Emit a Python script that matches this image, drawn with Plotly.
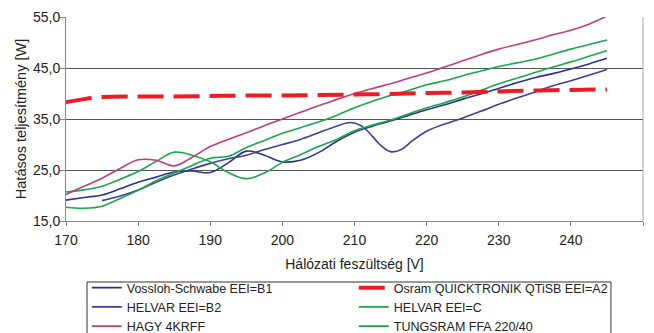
import plotly.graph_objects as go

# Supply voltage [V] and effective power [W] for each ballast
v_step = [170, 172.5, 175, 177.5, 180, 182.5, 185, 187.5, 190, 192.5, 195, 197.5,
          200, 202.5, 205, 207.5, 210, 212.5, 215, 217.5, 220, 222.5, 225, 227.5,
          230, 232.5, 235, 237.5, 240, 242.5, 245]

vossloh_w = [19.1, 19.6, 20.1, 21.3, 22.6, 23.6, 24.6, 24.8, 24.5, 26.4, 28.7, 27.9,
             26.6, 26.9, 28.4, 30.6, 32.4, 33.6, 34.6, 35.7, 36.8, 37.8, 38.9, 39.9,
             41.0, 42.1, 43.1, 43.9, 44.8, 45.8, 46.9]

helvar_b2_v = [175, 177.5, 180, 182.5, 185, 187.5, 190, 192.5, 195, 197.5, 200, 202.5,
               205, 207.5, 209.5, 211, 212.5, 213.5, 215, 216.5, 218, 220, 222.5, 225,
               227.5, 230, 232.5, 235, 237.5, 240, 242.5, 245]
helvar_b2_w = [19.0, 19.9, 21.1, 22.6, 24.0, 25.2, 26.3, 27.2, 27.9, 29.0, 30.0, 31.0,
               32.3, 33.6, 34.3, 33.6, 31.6, 30.0, 28.6, 29.0, 30.7, 32.6, 34.0, 35.2,
               36.5, 37.9, 39.1, 40.3, 41.5, 42.5, 43.6, 44.7]

helvar_c_w = [20.7, 21.1, 21.8, 23.2, 24.7, 26.7, 28.5, 27.9, 26.6, 24.5, 23.3, 24.4,
              26.5, 28.0, 29.6, 31.0, 32.7, 33.8, 34.8, 36.0, 37.2, 38.2, 39.3, 40.6,
              41.9, 43.0, 44.1, 45.2, 46.2, 47.3, 48.4]

hagy_w = [20.2, 21.8, 23.4, 25.3, 27.0, 26.9, 25.8, 27.5, 29.6, 31.0, 32.3, 33.7,
          35.0, 36.3, 37.6, 38.8, 40.0, 41.0, 41.9, 43.0, 44.0, 45.2, 46.4, 47.6,
          48.7, 49.6, 50.5, 51.5, 52.4, 53.6, 55.2]

tungsram_w = [17.7, 17.5, 17.9, 19.4, 21.0, 22.9, 24.4, 25.9, 27.3, 27.7, 29.4, 30.8,
              32.2, 33.3, 34.4, 35.7, 37.2, 38.5, 39.6, 40.6, 41.7, 42.5, 43.5, 44.4,
              45.3, 46.0, 46.7, 47.7, 48.7, 49.6, 50.5]

osram_v = [170, 172.5, 175, 180, 185, 190, 195, 200, 205, 210, 215, 220, 225, 230,
           235, 240, 245]
osram_w = [38.3, 38.9, 39.3, 39.4, 39.4, 39.5, 39.6, 39.6, 39.7, 39.8, 39.9, 40.1,
           40.2, 40.4, 40.6, 40.7, 40.8]

x_ticks = [170, 180, 190, 200, 210, 220, 230, 240, 250]
y_ticks = [15, 25, 35, 45, 55]

BLUE_1 = "#2e3192"
BLUE_2 = "#3b3f9e"
GREEN = "#1aa84c"
PINK = "#bf3f7c"
RED = "#ed1c24"

FONT = "Liberation Sans, Arial, sans-serif"
TEXT = "#222222"

fig = go.Figure()

series = [
    ("Vossloh-Schwabe EEI=B1", v_step, vossloh_w, BLUE_1, 1),
    ("HELVAR EEI=B2", helvar_b2_v, helvar_b2_w, BLUE_2, 3),
    ("HELVAR EEI=C", v_step, helvar_c_w, GREEN, 4),
    ("HAGY 4KRFF", v_step, hagy_w, PINK, 5),
    ("TUNGSRAM FFA 220/40", v_step, tungsram_w, GREEN, 6),
]
for name, xs, ys, color, rank in series:
    fig.add_trace(go.Scatter(
        x=xs, y=ys, name=name, mode="lines", legendrank=rank,
        line=dict(color=color, width=1.6, shape="spline", smoothing=1.0),
    ))

fig.add_trace(go.Scatter(
    x=osram_v, y=osram_w, name="Osram QUICKTRONIK QTiSB EEI=A2", mode="lines",
    legendrank=2,
    line=dict(color=RED, width=4, dash="26px,10px", shape="spline"),
))

fig.update_layout(
    width=654, height=333,
    margin=dict(l=66, r=11, t=17, b=112, autoexpand=False),
    paper_bgcolor="white", plot_bgcolor="white",
    separators=", ",
    font=dict(family=FONT, size=14, color=TEXT),
    showlegend=True,
    legend=dict(
        orientation="h", x=0.036, xanchor="left", y=-0.255, yanchor="top",
        entrywidth=222, entrywidthmode="pixels",
        borderwidth=0, bgcolor="rgba(0,0,0,0)",
        font=dict(family=FONT, size=12.5, color=TEXT),
    ),
    shapes=[
        # right edge of the plot area
        dict(type="line", xref="paper", yref="paper", x0=1, x1=1, y0=0, y1=1,
             line=dict(color="#a6a6a6", width=1)),
        # legend frame
        dict(type="rect", xref="paper", yref="paper",
             x0=0.0364, x1=0.9445, y0=-0.299, y1=-0.75,
             line=dict(color="#333333", width=1), fillcolor="rgba(0,0,0,0)"),
    ],
)

fig.update_xaxes(
    range=[170, 250], tickvals=x_ticks, ticks="outside", ticklen=4,
    tickcolor="#888888", showline=True, linecolor="#888888", linewidth=1,
    showgrid=False, zeroline=False, ticklabelstandoff=2,
    tickfont=dict(family=FONT, size=14, color=TEXT),
    title=dict(text="Hálózati feszültség [V]", standoff=12,
               font=dict(family=FONT, size=14, color=TEXT)),
)
fig.update_yaxes(
    range=[15, 55], tickvals=y_ticks, tickformat=".1f", ticks="outside", ticklen=5,
    tickcolor="#888888", showline=True, linecolor="#888888", linewidth=1,
    showgrid=True, gridcolor="#555555", gridwidth=1, zeroline=False,
    ticklabelstandoff=-3,
    tickfont=dict(family=FONT, size=14, color=TEXT),
    title=dict(text="Hatásos teljesítmény [W]", standoff=2,
               font=dict(family=FONT, size=14.5, color=TEXT)),
)

fig.write_html("out.html")
